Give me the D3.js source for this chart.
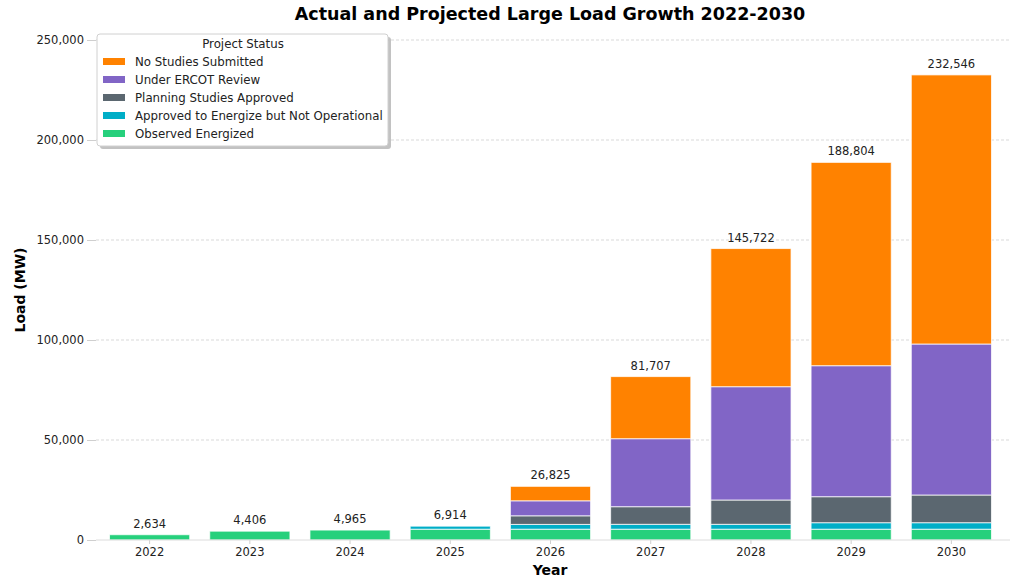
<!DOCTYPE html>
<html>
<head>
<meta charset="utf-8">
<script src="https://cdnjs.cloudflare.com/ajax/libs/d3/7.8.5/d3.min.js"></script>
<style>
  body { margin: 0; background: #fff; }
  text { font-family: "DejaVu Sans", sans-serif; }
</style>
</head>
<body>
<script>
'use strict';

// data (MW)
var years = ["2022", "2023", "2024", "2025", "2026", "2027", "2028", "2029", "2030"];
var statuses = ["Observed Energized", "Approved to Energize but Not Operational",
  "Planning Studies Approved", "Under ERCOT Review", "No Studies Submitted"];
var observedEnergized = [2634, 4406, 4965, 5400, 5400, 5400, 5400, 5400, 5400];
var approvedNotOperational = [0, 0, 0, 1514, 2400, 2450, 2450, 3250, 3250];
var planningApproved = [0, 0, 0, 0, 4300, 8800, 12150, 13000, 13850];
var underReview = [0, 0, 0, 0, 7500, 34000, 56650, 65500, 75500];
var noStudies = [0, 0, 0, 0, 7225, 31057, 69072, 101654, 134546];
var totals = [2634, 4406, 4965, 6914, 26825, 81707, 145722, 188804, 232546];
var yTicks = [0, 50000, 100000, 150000, 200000, 250000];
var colors = ["#26D07C", "#00AEC7", "#5B6770", "#8165C6", "#FF8200"];

var width = 1014, height = 578;
var margin = {top: 40, right: 4, bottom: 38, left: 96};
var plotRight = width - margin.right;
var plotBottom = height - margin.bottom;

var rows = years.map(function(y, i) {
  var r = {year: y};
  r[statuses[0]] = observedEnergized[i];
  r[statuses[1]] = approvedNotOperational[i];
  r[statuses[2]] = planningApproved[i];
  r[statuses[3]] = underReview[i];
  r[statuses[4]] = noStudies[i];
  return r;
});
var series = d3.stack().keys(statuses)(rows);

var svg = d3.select("body").append("svg")
    .attr("width", width)
    .attr("height", height);

var x = d3.scaleBand().domain(years).range([99.5, 1001.5]).paddingInner(0.2).paddingOuter(0.1);
var y = d3.scaleLinear().domain([0, 250000]).range([plotBottom, margin.top]);
var color = d3.scaleOrdinal().domain(statuses).range(colors);
var fmt = d3.format(",");

// gridlines
svg.append("g")
  .selectAll("line")
  .data(yTicks.slice(1))
  .enter().append("line")
    .attr("x1", margin.left)
    .attr("x2", plotRight)
    .attr("y1", function(d) { return y(d); })
    .attr("y2", function(d) { return y(d); })
    .attr("stroke", "#cfcfcf")
    .attr("stroke-width", 0.8)
    .attr("stroke-dasharray", "3,2");

// bars
svg.append("g")
  .selectAll("g")
  .data(series)
  .enter().append("g")
    .attr("fill", function(d) { return color(d.key); })
  .selectAll("rect")
  .data(function(d) { return d; })
  .enter().append("rect")
    .attr("x", function(d) { return x(d.data.year); })
    .attr("y", function(d) { return y(d[1]); })
    .attr("width", x.bandwidth())
    .attr("height", function(d) { return y(d[0]) - y(d[1]); })
    .attr("stroke", "#fff")
    .attr("stroke-opacity", 0.75)
    .attr("stroke-width", function(d) { return d[1] > d[0] ? 1 : 0; });

// total labels
svg.append("g")
  .selectAll("text")
  .data(totals)
  .enter().append("text")
    .attr("x", function(d, i) { return x(years[i]) + x.bandwidth() / 2; })
    .attr("y", function(d) { return y(d) - 7; })
    .attr("text-anchor", "middle")
    .style("font-size", "11.5px")
    .style("fill", "#222")
    .text(function(d) { return fmt(d); });

// x axis
var xAxis = svg.append("g")
    .attr("transform", "translate(0," + plotBottom + ")")
    .call(d3.axisBottom(x).tickSize(4).tickPadding(4));
xAxis.select(".domain").remove();
xAxis.append("line")
    .attr("x1", margin.left).attr("x2", plotRight)
    .attr("stroke", "#dcdcdc");
xAxis.selectAll(".tick line").attr("stroke", "#cfcfcf");
xAxis.selectAll(".tick text")
    .style("font-size", "11.5px")
    .style("font-family", "DejaVu Sans")
    .attr("fill", "#222");

// y axis
var yAxis = svg.append("g")
    .attr("transform", "translate(" + margin.left + ",0)")
    .call(d3.axisLeft(y).tickValues(yTicks).tickFormat(fmt).tickSize(9).tickPadding(3));
yAxis.select(".domain").remove();
yAxis.selectAll(".tick line").attr("stroke", "#cfcfcf");
yAxis.selectAll(".tick text")
    .style("font-size", "11.5px")
    .style("font-family", "DejaVu Sans")
    .attr("fill", "#222");

// title and axis labels
svg.append("text")
    .attr("x", 550)
    .attr("y", 20)
    .attr("text-anchor", "middle")
    .style("font-size", "17.5px")
    .style("font-weight", "bold")
    .text("Actual and Projected Large Load Growth 2022-2030");

svg.append("text")
    .attr("x", 550)
    .attr("y", 575)
    .attr("text-anchor", "middle")
    .style("font-size", "14px")
    .style("font-weight", "bold")
    .text("Year");

svg.append("text")
    .attr("transform", "translate(25," + ((margin.top + plotBottom) / 2) + ") rotate(-90)")
    .attr("text-anchor", "middle")
    .style("font-size", "14px")
    .style("font-weight", "bold")
    .text("Load (MW)");

// legend
var legend = svg.append("g").attr("transform", "translate(97,34)");
legend.append("rect")
    .attr("x", 3).attr("y", 3)
    .attr("width", 291).attr("height", 112)
    .attr("rx", 3)
    .attr("fill", "#999")
    .attr("opacity", 0.6);
legend.append("rect")
    .attr("width", 291).attr("height", 112)
    .attr("rx", 3)
    .attr("fill", "#fff")
    .attr("stroke", "#d0d0d0");
legend.append("text")
    .attr("x", 146)
    .attr("y", 14)
    .attr("text-anchor", "middle")
    .style("font-size", "11.8px")
    .style("fill", "#222")
    .text("Project Status");

var items = legend.selectAll(".legend")
    .data(statuses.slice().reverse())
  .enter().append("g")
    .attr("class", "legend")
    .attr("transform", function(d, i) { return "translate(0," + (27 + i * 18) + ")"; });
items.append("rect")
    .attr("x", 6).attr("y", -3)
    .attr("width", 22).attr("height", 7)
    .style("fill", color);
items.append("text")
    .attr("x", 38)
    .attr("y", 4.5)
    .style("font-size", "11.8px")
    .style("fill", "#222")
    .text(function(d) { return d; });
</script>
</body>
</html>
